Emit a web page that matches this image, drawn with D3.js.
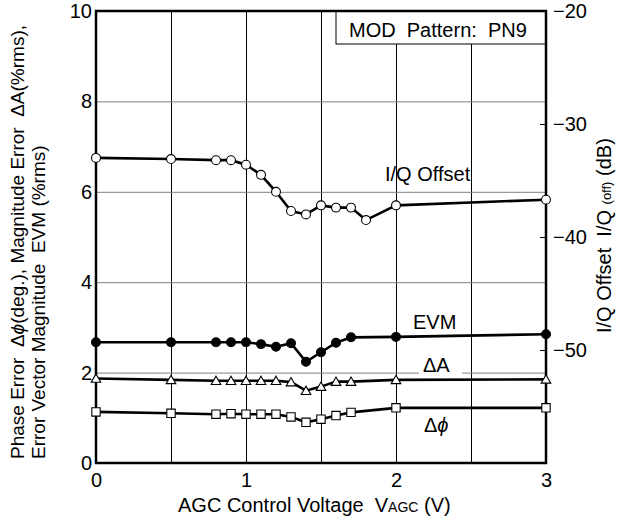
<!doctype html>
<html>
<head>
  <script src="https://d3js.org/d3.v7.min.js"></script>
  <style>
    body { margin:0; background:#fff; }
    text { font-family: Arial, "Liberation Sans", Helvetica, sans-serif; white-space: pre; }
  </style>
</head>
<body>
  <script>
    // AGC control voltage (V) for each measured point
    var vagcIQ = [0, 0.5, 0.8, 0.9, 1.0, 1.1, 1.2, 1.3, 1.4, 1.5, 1.6, 1.7, 1.8, 2.0, 3.0];
    var vagc = [0, 0.5, 0.8, 0.9, 1.0, 1.1, 1.2, 1.3, 1.4, 1.5, 1.6, 1.7, 2.0, 3.0];

    // I/Q offset (dB, right axis)
    var iqOffset = [-33.0, -33.1, -33.2, -33.2, -33.6, -34.5, -36.0, -37.7, -38.0, -37.2, -37.4, -37.4, -38.5, -37.2, -36.7];
    // EVM (%rms), magnitude error (%rms), phase error (deg.)
    var evm = [2.67, 2.67, 2.67, 2.67, 2.67, 2.63, 2.57, 2.65, 2.24, 2.45, 2.66, 2.78, 2.79, 2.85];
    var deltaA = [1.87, 1.84, 1.82, 1.82, 1.82, 1.82, 1.82, 1.79, 1.60, 1.69, 1.80, 1.80, 1.84, 1.85];
    var deltaPhi = [1.13, 1.10, 1.08, 1.09, 1.08, 1.08, 1.08, 1.02, 0.90, 0.97, 1.05, 1.12, 1.22, 1.22];

    // tick values
    var xTicks = [0, 1, 2, 3];
    var xGrid = [0.5, 1, 1.5, 2, 2.5];
    var yLeftTicks = [0, 2, 4, 6, 8, 10];
    var yGrid = [2, 4, 6, 8];
    var yRightTicks = [-20, -30, -40, -50];

    var width = 618, height = 523;
    var pLeft = 96, pRight = 546, pTop = 11, pBottom = 463;

    var svg = d3.select("body").append("svg")
      .attr("width", width)
      .attr("height", height);

    var xScale = d3.scaleLinear().domain([0, 3]).range([pLeft, pRight]);
    var yLeft = d3.scaleLinear().domain([0, 10]).range([pBottom, pTop]);
    var yRight = d3.scaleLinear().domain([-60, -20]).range([pBottom, pTop]);

    // grid lines
    svg.append("g")
      .attr("transform", "translate(0," + pBottom + ")")
      .call(d3.axisBottom(xScale).tickValues(xGrid).tickSize(-(pBottom - pTop)).tickFormat(""))
      .call(function(g){
        g.select(".domain").remove();
        g.selectAll("line").attr("stroke", "#000").attr("stroke-width", 1);
      });

    svg.append("g")
      .attr("transform", "translate(" + pLeft + ",0)")
      .call(d3.axisLeft(yLeft).tickValues(yGrid).tickSize(-(pRight - pLeft)).tickFormat(""))
      .call(function(g){
        g.select(".domain").remove();
        g.selectAll("line").attr("stroke", "#808080").attr("stroke-width", 1);
      });

    // legend box
    svg.append("rect")
      .attr("x", 336).attr("y", pTop)
      .attr("width", pRight - 336).attr("height", 33)
      .attr("fill", "#fff").attr("stroke", "#000").attr("stroke-width", 1);
    svg.append("text")
      .attr("x", 349).attr("y", 37)
      .attr("font-size", 20)
      .text("MOD  Pattern:  PN9");

    // white patch behind the ΔA label
    svg.append("rect")
      .attr("x", 419).attr("y", 362)
      .attr("width", 43).attr("height", 16)
      .attr("fill", "#fff");

    // frame
    svg.append("rect")
      .attr("x", pLeft).attr("y", pTop)
      .attr("width", pRight - pLeft).attr("height", pBottom - pTop)
      .attr("fill", "none").attr("stroke", "#000").attr("stroke-width", 2.5);

    // axes
    svg.append("g")
      .attr("transform", "translate(0," + pBottom + ")")
      .call(d3.axisBottom(xScale).tickValues(xTicks).tickSize(0).tickPadding(10).tickFormat(d3.format("d")))
      .call(function(g){
        g.select(".domain").remove();
        g.selectAll("text").attr("font-size", 20).attr("fill", "#000");
      });

    svg.append("g")
      .attr("transform", "translate(" + pLeft + ",0)")
      .call(d3.axisLeft(yLeft).tickValues(yLeftTicks).tickSize(0).tickPadding(4))
      .call(function(g){
        g.select(".domain").remove();
        g.selectAll("text").attr("font-size", 20).attr("fill", "#000");
      });

    svg.append("g")
      .attr("transform", "translate(" + pRight + ",0)")
      .call(d3.axisRight(yRight).tickValues(yRightTicks).tickSizeInner(-6).tickSizeOuter(0).tickPadding(7))
      .call(function(g){
        g.select(".domain").remove();
        g.selectAll("line").attr("stroke", "#000").attr("stroke-width", 1);
        g.selectAll("text").attr("font-size", 20).attr("fill", "#000");
      });

    // series
    var series = [
      { name: "iq", xs: vagcIQ, ys: iqOffset, y: yRight, marker: "circle", fill: "#fff" },
      { name: "evm", xs: vagc, ys: evm, y: yLeft, marker: "circle", fill: "#000" },
      { name: "dA", xs: vagc, ys: deltaA, y: yLeft, marker: "triangle", fill: "#fff" },
      { name: "dphi", xs: vagc, ys: deltaPhi, y: yLeft, marker: "square", fill: "#fff" }
    ];

    series.forEach(function(s){
      var pts = s.xs.map(function(x, i){ return [xScale(x), s.y(s.ys[i])]; });
      svg.append("path")
        .attr("d", d3.line()(pts))
        .attr("fill", "none")
        .attr("stroke", "#000")
        .attr("stroke-width", 2.6);

      var sym;
      if (s.marker === "circle") sym = d3.symbol().type(d3.symbolCircle).size(62);
      if (s.marker === "triangle") sym = d3.symbol().type(d3.symbolTriangle).size(40);
      if (s.marker === "square") sym = d3.symbol().type(d3.symbolSquare).size(70);

      svg.append("g").selectAll("path")
        .data(pts)
        .enter()
        .append("path")
        .attr("transform", function(d){
          var dy = s.marker === "triangle" ? 1 : 0;
          return "translate(" + d[0] + "," + (d[1] + dy) + ")";
        })
        .attr("d", sym)
        .attr("fill", s.fill)
        .attr("stroke", "#000")
        .attr("stroke-width", 1.1);
    });

    // curve labels
    svg.append("text").attr("x", 385).attr("y", 181).attr("font-size", 20).text("I/Q Offset");
    svg.append("text").attr("x", 413).attr("y", 329).attr("font-size", 20).text("EVM");
    svg.append("text").attr("x", 423).attr("y", 372).attr("font-size", 20).text("\u0394A");
    var dp = svg.append("text").attr("x", 424).attr("y", 432).attr("font-size", 20);
    dp.append("tspan").text("\u0394");
    dp.append("tspan").attr("font-style", "italic").text("\u03D5");

    // axis titles
    var xt = svg.append("text").attr("x", 178).attr("y", 512).attr("font-size", 20);
    xt.append("tspan").text("AGC Control Voltage  V");
    xt.append("tspan").attr("font-size", 14).text("AGC");
    xt.append("tspan").text(" (V)");

    var l1 = svg.append("text").attr("transform", "translate(24,459) rotate(-90)").attr("font-size", 19);
    l1.append("tspan").text("Phase Error  \u0394");
    l1.append("tspan").attr("font-style", "italic").text("\u03D5");
    l1.append("tspan").text("(deg.), Magnitude Error  \u0394A(%rms),");
    svg.append("text").attr("transform", "translate(45,459) rotate(-90)").attr("font-size", 19)
      .text("Error Vector Magnitude  EVM (%rms)");

    var rt = svg.append("text").attr("transform", "translate(611,333) rotate(-90)").attr("font-size", 20);
    rt.append("tspan").text("I/Q Offset  I/Q ");
    rt.append("tspan").attr("font-size", 13).text("(off)");
    rt.append("tspan").text(" (dB)");
  </script>
</body>
</html>
